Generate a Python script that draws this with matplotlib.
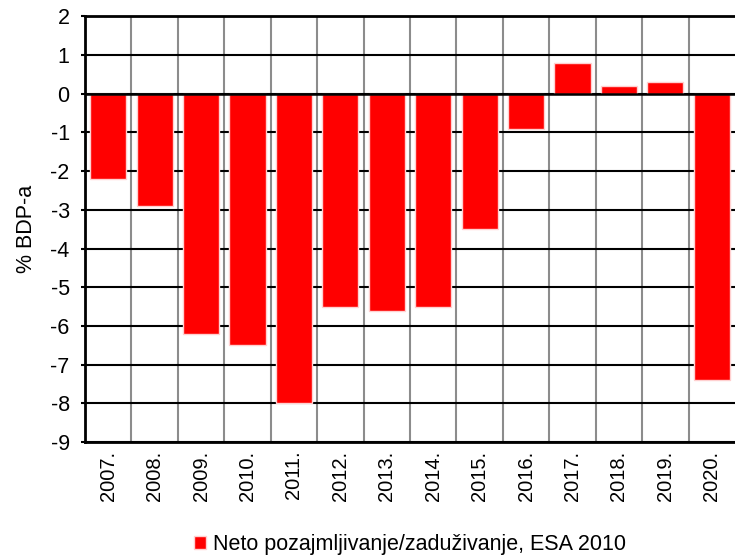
import matplotlib
matplotlib.use("Agg")
import matplotlib.pyplot as plt
import numpy as np

plt.rcParams['font.family'] = ['Liberation Sans', 'DejaVu Sans']

# data
years = ["2007.", "2008.", "2009.", "2010.", "2011.", "2012.", "2013.",
         "2014.", "2015.", "2016.", "2017.", "2018.", "2019.", "2020."]
values = [-2.2, -2.9, -6.2, -6.5, -8.0, -5.5, -5.6,
          -5.5, -3.5, -0.9, 0.8, 0.2, 0.3, -7.4]
y_ticks = list(range(-9, 3))

fig = plt.figure(figsize=(7.35, 5.59), dpi=100)
ax = fig.add_axes([0.1156, 0.209, 0.8844, 0.762])

x = np.arange(len(years))

# vertical gray lines at category boundaries
for b in np.arange(0.5, len(years) - 0.5, 1):
    ax.axvline(b, color="#8c8c8c", lw=1.5, zorder=1)
# horizontal black grid
for t in y_ticks:
    ax.axhline(t, color="black", lw=1.5, zorder=1)

ax.bar(x, values, width=0.78, color="#ff0000", edgecolor="#ffd0d0",
       linewidth=1.0, zorder=2, label="Neto pozajmljivanje/zaduživanje, ESA 2010")
ax.axhline(0, color="black", lw=1.8, zorder=3)

ax.set_xlim(-0.5, len(years) - 0.5)
ax.set_ylim(-9, 2)
ax.set_yticks(y_ticks)
ax.set_yticklabels([str(t) for t in y_ticks], fontsize=15.5)
ax.set_xticks(x)
ax.set_xticklabels(years, rotation=90, fontsize=14.5)
ax.tick_params(axis="x", length=0, pad=6)
ax.tick_params(axis="y", length=3, width=1.5, pad=8)
ax.set_ylabel("% BDP-a", fontsize=15.5, labelpad=10)

for s in ["left", "top", "bottom"]:
    ax.spines[s].set_linewidth(2)
    ax.spines[s].set_color("black")
ax.spines["right"].set_visible(False)

leg = fig.legend(loc="lower center", bbox_to_anchor=(0.558, -0.028), frameon=False,
                 fontsize=15.5, handlelength=0.55, handleheight=0.55,
                 handletextpad=0.3)

fig.savefig("out.png", dpi=100)
